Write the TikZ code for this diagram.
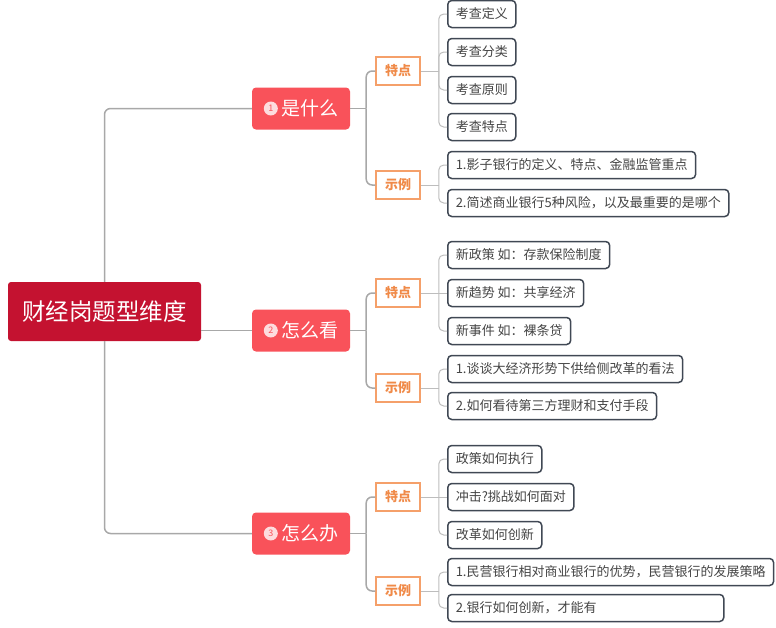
\documentclass[tikz,border=0pt]{standalone}
\usepackage{fontspec}
\setmainfont{Noto Sans CJK SC}
\usetikzlibrary{calc}

\definecolor{rootred}{HTML}{C41230}
\definecolor{branchred}{HTML}{F9525A}
\definecolor{tagorange}{HTML}{F5A06A}
\definecolor{tagtext}{HTML}{F08A48}
\definecolor{leafline}{HTML}{404854}
\definecolor{leaftext}{HTML}{454545}
\definecolor{trunkgray}{HTML}{A8A8A8}
\definecolor{twiggray}{HTML}{BDBDBD}

\tikzset{
  rootbox/.style={fill=rootred, text=white, rounded corners=3pt, minimum width=193pt,
    minimum height=59pt, font=\fontsize{23.5}{26}\selectfont},
  branchbox/.style={fill=branchred, text=white, rounded corners=4pt, minimum width=98pt,
    minimum height=42pt, font=\fontsize{19}{22}\selectfont},
  numdot/.style={circle, fill=white, fill opacity=0.8, text opacity=1, text=branchred,
    inner sep=0pt, minimum size=14pt, font=\fontsize{9}{9}\selectfont},
  tagbox/.style={draw=tagorange, line width=1.5pt, fill=white, text=tagtext, inner sep=0pt,
    minimum width=44pt, minimum height=28pt, font=\bfseries\fontsize{13}{15}\selectfont},
  leafbox/.style={draw=leafline, line width=1.5pt, rounded corners=4pt, fill=white,
    text=leaftext, anchor=west, minimum height=27pt, inner xsep=8pt,
    font=\fontsize{13}{15}\selectfont},
  trunk/.style={draw=trunkgray, line width=1.5pt, rounded corners=6pt},
  twig/.style={draw=twiggray, line width=1pt, rounded corners=5pt}
}

\begin{document}
\begin{tikzpicture}[x=1pt, y=-1pt]
    \useasboundingbox (0,0) rectangle (776,627);

    % Nodo centrale
    \node[rootbox] (root) at (104.5,311.5) {财经岗题型维度};

    % Rami principali
    \node[branchbox] (b1) at (301,108.5) {\hspace*{18pt}是什么};
    \node[branchbox] (b2) at (301,330.5) {\hspace*{18pt}怎么看};
    \node[branchbox] (b3) at (301,533.5) {\hspace*{18pt}怎么办};
    \foreach \i in {1,2,3}
        \node[numdot] (n\i) at ([xshift=19pt]b\i.west) {\i};

    \draw[trunk] (root.north) |- (b1.west);
    \draw[trunk] (root.east |- b2.west) -- (b2.west);
    \draw[trunk] (root.south) |- (b3.west);

    % Etichette
    \node[tagbox] (t1) at (398,71) {特点};
    \node[tagbox] (e1) at (398,185) {示例};
    \node[tagbox] (t2) at (398,293) {特点};
    \node[tagbox] (e2) at (398,388) {示例};
    \node[tagbox] (t3) at (398,497) {特点};
    \node[tagbox] (e3) at (398,591) {示例};

    \foreach \i in {1,2,3} {
        \coordinate (jb\i) at ($(b\i.east)+(16,0)$);
        \draw[trunk] (b\i.east) -- (jb\i);
        \draw[trunk] (jb\i) |- (t\i.west);
        \draw[trunk] (jb\i) |- (e\i.west);
    }

    % Foglie - ramo 1
    \node[leafbox] (l1a) at (447,14) {考查定义};
    \node[leafbox] (l1b) at (447,52) {考查分类};
    \node[leafbox] (l1c) at (447,90) {考查原则};
    \node[leafbox] (l1d) at (447,127) {考查特点};
    \node[leafbox] (m1a) at (447,165) {1.影子银行的定义、特点、金融监管重点};
    \node[leafbox] (m1b) at (447,203) {2.简述商业银行5种风险，以及最重要的是哪个};

    % Foglie - ramo 2
    \node[leafbox] (l2a) at (447,255) {新政策 如：存款保险制度};
    \node[leafbox] (l2b) at (447,293) {新趋势 如：共享经济};
    \node[leafbox] (l2c) at (447,331) {新事件 如：裸条贷};
    \node[leafbox] (m2a) at (447,369) {1.谈谈大经济形势下供给侧改革的看法};
    \node[leafbox] (m2b) at (447,406) {2.如何看待第三方理财和支付手段};

    % Foglie - ramo 3
    \node[leafbox] (l3a) at (447,459) {政策如何执行};
    \node[leafbox] (l3b) at (447,497) {冲击?挑战如何面对};
    \node[leafbox] (l3c) at (447,535) {改革如何创新};
    \node[leafbox] (m3a) at (447,572) {1.民营银行相对商业银行的优势，民营银行的发展策略};
    \node[leafbox, text width=260pt, align=left] (m3b) at (447,608) {2.银行如何创新，才能有};

    % Collegamenti etichette - foglie
    \foreach \t in {t1,e1,t2,e2,t3,e3} {
        \coordinate (j\t) at ($(\t.east)+(18,0)$);
        \draw[twig] (\t.east) -- (j\t);
    }
    \foreach \leaf in {l1a,l1b,l1c,l1d}
        \draw[twig] (jt1) |- (\leaf.west);
    \foreach \leaf in {m1a,m1b}
        \draw[twig] (je1) |- (\leaf.west);
    \foreach \leaf in {l2a,l2c}
        \draw[twig] (jt2) |- (\leaf.west);
    \draw[twig] (jt2) -- (l2b.west);
    \foreach \leaf in {m2a,m2b}
        \draw[twig] (je2) |- (\leaf.west);
    \foreach \leaf in {l3a,l3c}
        \draw[twig] (jt3) |- (\leaf.west);
    \draw[twig] (jt3) -- (l3b.west);
    \foreach \leaf in {m3a,m3b}
        \draw[twig] (je3) |- (\leaf.west);
\end{tikzpicture}
\end{document}
